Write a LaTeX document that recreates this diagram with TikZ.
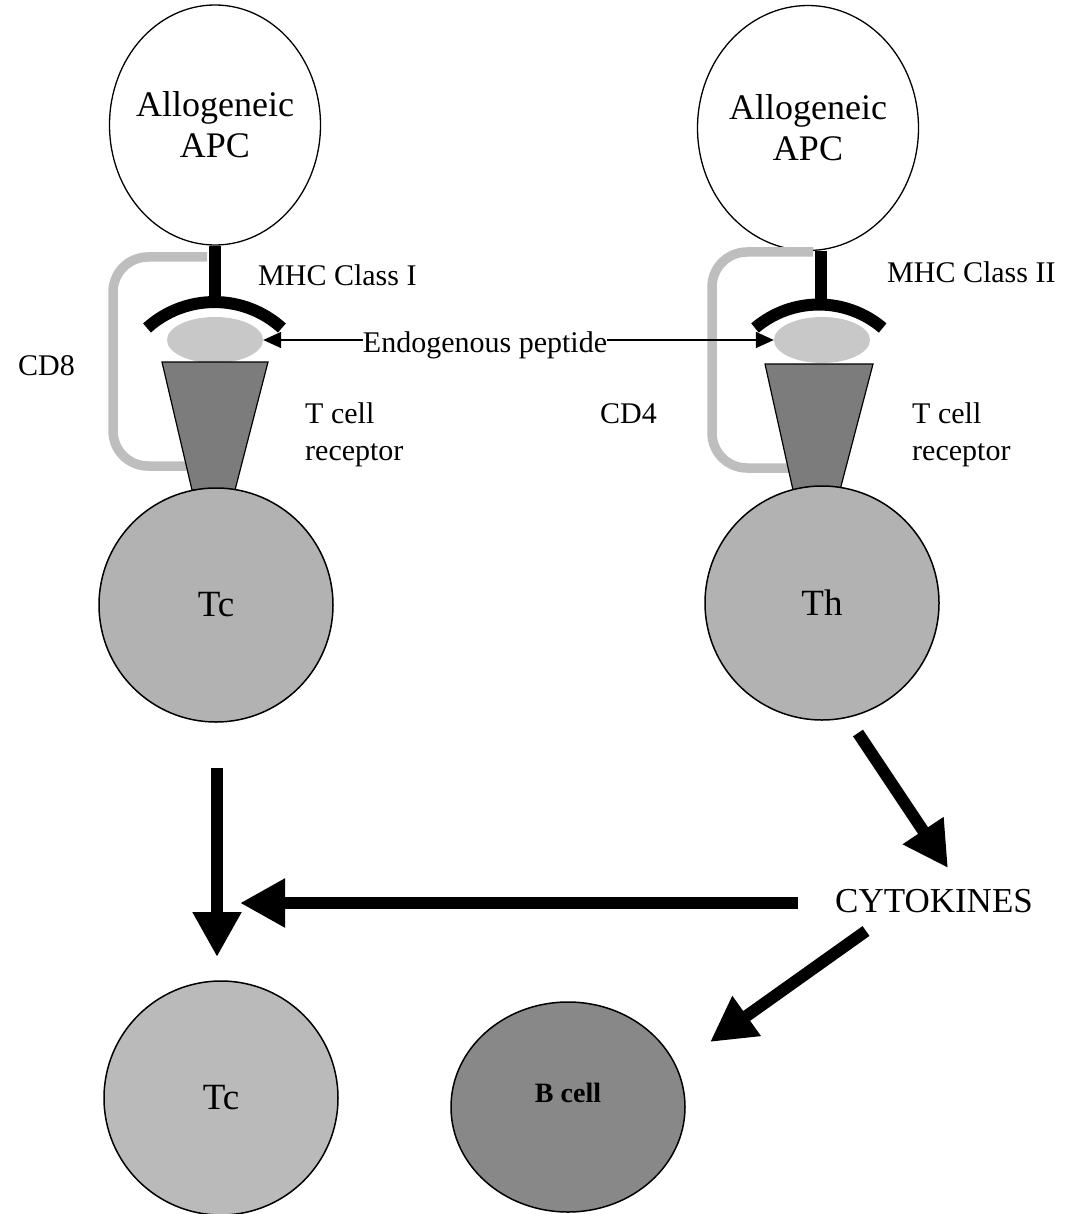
\documentclass[tikz,border=0pt]{standalone}
\usepackage{fontspec}
\setmainfont{Liberation Serif}
\usetikzlibrary{arrows.meta,shapes.geometric}
\definecolor{tcgray}{HTML}{B2B2B2}
\definecolor{tclight}{HTML}{BABABA}
\definecolor{bgray}{HTML}{888888}
\definecolor{tcrgray}{HTML}{7C7C7C}
\definecolor{pepgray}{HTML}{C8C8C8}
\definecolor{cdgray}{HTML}{BEBEBE}
\begin{document}
\begin{tikzpicture}[x=1pt,y=-1pt,
  apc/.style={ellipse, draw=black, line width=1.3pt, fill=white, align=center,
    font=\fontsize{36}{41}\selectfont, inner xsep=-30pt, inner ysep=-10pt},
  cell/.style={circle, draw=black, line width=1.5pt, minimum size=234pt, inner sep=0pt,
    font=\fontsize{37}{40}\selectfont},
  pep/.style={ellipse, fill=pepgray, minimum width=96pt, minimum height=46pt, inner sep=0pt},
  tcr/.style={draw=black, line width=1.2pt, fill=tcrgray},
  mhc/.style={line width=12pt},
  cdline/.style={draw=cdgray, line width=9.5pt, rounded corners=35pt},
  lbl/.style={font=\fontsize{30}{37}\selectfont, anchor=base west, inner sep=0pt, align=left},
  thinarrow/.style={line width=1.5pt, -{Triangle[length=18pt,width=16pt]}},
  bigarrow/.style={line width=12pt, -{Triangle[length=45pt,width=46pt]}}
]
\useasboundingbox (0,0) rectangle (1067,1214);

% ---------- left side ----------
\node[apc, minimum width=211pt, minimum height=240pt] (apcL) at (215,125) {Allogeneic\\APC};
\coordinate (mhcL) at (215,302);
\draw[mhc] (apcL.south) -- (mhcL);
\draw[mhc] (147,328) arc[start angle=-132.1, end angle=-47.9, radius=100.6];
\node[pep] (pepL) at (215,340) {};
\coordinate (cd8a) at (207,257);
\coordinate (cd8b) at (195,466);
\draw[cdline] (cd8a) -- (113,257) -- (113,466) -- (cd8b);
\draw[tcr] (162,362) -- (268,362) -- (235,490) -- (192,490) -- cycle;
\node[cell, fill=tcgray] (tc1) at (216,605) {Tc};

\node[lbl] (mhc1) at (258,286) {MHC Class I};
\node[lbl] (cd8) at (18,375) {CD8};
\node[lbl] (tcrL1) at (305,423) {T cell};
\node[lbl] (tcrL2) at (305,460) {receptor};

% ---------- right side ----------
\node[apc, minimum width=221pt, minimum height=245pt] (apcR) at (808,128) {Allogeneic\\APC};
\coordinate (mhcR) at (821,300);
\draw[mhc] (apcR.south -| mhcR) -- (mhcR);
\draw[mhc] (755,328) arc[start angle=-130.4, end angle=-49.6, radius=98.5];
\node[pep] (pepR) at (822,340) {};
\coordinate (cd4a) at (813,252);
\coordinate (cd4b) at (792,468);
\draw[cdline] (cd4a) -- (712,252) -- (712,468) -- (cd4b);
\draw[tcr] (765,364) -- (873,364) -- (840,490) -- (793,490) -- cycle;
\node[cell, fill=tcgray] (th) at (822,603) {Th};

\node[lbl] (mhc2) at (887,283) {MHC Class II};
\node[lbl] (cd4) at (600,423) {CD4};
\node[lbl] (tcrR1) at (912,423) {T cell};
\node[lbl] (tcrR2) at (912,460) {receptor};

% ---------- peptide label ----------
\node[font=\fontsize{30}{37}\selectfont, anchor=base, inner sep=0pt] (endo) at (485,352) {Endogenous peptide};
\draw[thinarrow] (endo.west |- pepL.east) -- (pepL.east);
\draw[thinarrow] (endo.east |- pepR.west) -- (pepR.west);

% ---------- lower part ----------
\node[font=\fontsize{35}{40}\selectfont, anchor=base, inner sep=0pt] (cyt) at (934,912) {CYTOKINES};
\node[cell, fill=tclight] (tc2) at (221,1098) {Tc};
\node[ellipse, draw=black, line width=1.5pt, fill=bgray, minimum width=234pt, minimum height=210pt,
      inner sep=0pt,
      label={[font=\bfseries\fontsize{28}{30}\selectfont, yshift=14pt]center:B cell}] (bcell) at (568,1107) {};

\coordinate (a1s) at (217,768);
\coordinate (a1e) at (217,957);
\draw[bigarrow] (a1s) -- (a1e);
\coordinate (a2s) at (858,733);
\coordinate (a2e) at (948,868);
\draw[bigarrow] (a2s) -- (a2e);
\coordinate (a3s) at (798,903);
\coordinate (a3e) at (240,903);
\draw[bigarrow] (a3s) -- (a3e);
\coordinate (a4s) at (866,931);
\coordinate (a4e) at (710,1042);
\draw[bigarrow] (a4s) -- (a4e);
\end{tikzpicture}
\end{document}
